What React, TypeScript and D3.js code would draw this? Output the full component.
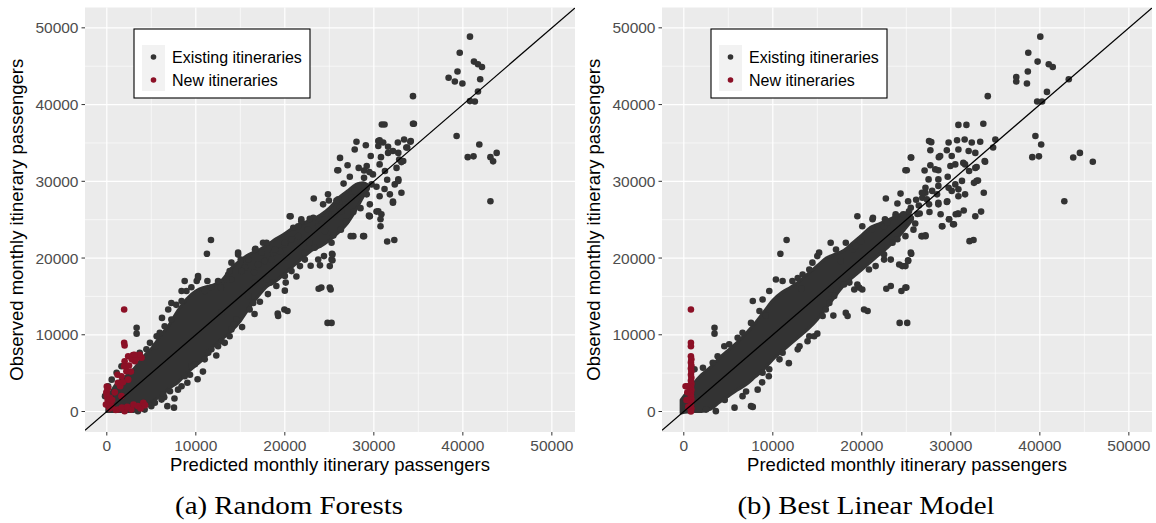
import React from 'react';
import * as d3 from 'd3';

// axis ticks (same for both panels)
const majorTicks = [0, 10000, 20000, 30000, 40000, 50000];
const minorTicks = [5000, 15000, 25000, 35000, 45000];
const xDomain = [-2450, 52600];
const yDomain = [-2670, 52650];

const legendLabels = ['Existing itineraries', 'New itineraries'];
const captions = ['(a) Random Forests', '(b) Best Linear Model'];
const xTitle = 'Predicted monthly itinerary passengers';
const yTitle = 'Observed monthly itinerary passengers';

// Random Forests: overplotted dense band (predicted, observed low, observed high)
const rfCoreX = [0, 1000, 2000, 3000, 4000, 5000, 6000, 7000, 8000, 9000, 10000, 11000, 12000, 13000, 14000, 15000, 16000, 17000, 18000, 19000, 20000, 21000, 22000, 23000, 24000, 25000, 26000, 27000, 28000, 28800, 29400];
const rfCoreLo = [0, 0, 0, 0, 500, 1200, 2000, 3000, 3800, 5000, 6000, 7000, 8500, 9500, 10500, 11800, 13500, 15000, 16300, 17000, 18000, 19000, 20000, 21000, 21500, 22300, 23300, 24500, 26300, 28000, 29000];
const rfCoreHi = [1500, 3500, 4500, 5500, 7000, 8200, 9800, 11300, 13200, 14700, 15700, 16200, 16500, 17200, 18700, 19700, 20500, 21000, 21700, 22500, 23200, 24000, 24500, 25000, 25600, 26500, 27800, 28700, 29600, 29800, 29500];

// Random Forests: existing itineraries [predicted, observed]
const rfExisting: [number, number][] = [
  [40800, 48850], [39650, 46750], [41250, 45600], [41700, 45250], [42150, 44900], [39400, 44300], [38400, 43500],
  [39100, 43000], [39950, 42750], [41950, 43300], [41700, 41700], [40800, 40450], [41350, 40400], [34400, 41100],
  [34400, 37500], [30900, 37400], [31200, 37400], [34500, 37500], [39300, 35900], [41850, 34800], [40550, 33150],
  [41200, 33250], [43100, 33150], [43400, 32600], [43800, 33700], [43100, 27400],
  [33400, 35450], [32700, 35050], [34150, 35250], [33650, 34400], [30500, 35250], [30500, 34600], [29100, 34700],
  [28050, 35150], [27850, 34150], [26200, 33050], [29650, 33300], [30800, 33150], [31600, 33700], [32850, 32850],
  [33300, 32650], [27050, 32100], [26000, 31450], [28300, 31750], [29200, 32000], [28900, 30450], [30650, 32200],
  [31250, 31350], [32550, 31750], [32750, 30250], [32350, 29600], [29750, 29600], [28250, 29400], [27850, 28750],
  [27500, 27850], [28600, 28300], [29200, 28300], [30650, 28050], [31800, 28300], [33100, 28500], [32150, 27200],
  [29550, 27000], [30500, 26100], [30850, 25700], [29450, 25550], [26800, 27000], [26000, 27650], [24850, 28300],
  [24950, 27500], [24300, 27000], [23250, 27750], [26200, 26550], [25250, 25700], [20550, 25450], [21850, 25050],
  [23200, 25250], [25900, 31450], [28900, 31400], [28800, 22850], [31500, 22150], [32300, 22350], [30750, 24150],
  [30750, 25050], [29500, 25450], [30300, 26050], [27700, 22850], [25800, 27500], [25050, 16150], [25350, 19700],
  [25350, 20450], [25050, 18950], [32150, 27350], [32750, 30050], [33100, 32500], [34100, 35150], [33750, 34400],
  [31050, 35050], [30650, 35350], [31600, 34500], [32750, 33700], [32150, 33950],
  [29900, 30900], [30300, 29300], [31200, 29000], [31500, 30200], [29500, 31200], [27300, 30600], [26600, 29700],
  [27700, 26000], [28500, 26500], [26900, 24800], [26300, 23700],
  [11700, 22350], [11250, 20550], [10250, 17650], [10100, 17000], [11300, 17000], [12500, 17000], [8950, 15700],
  [8400, 14400], [3350, 10900], [3350, 10150], [5450, 8500], [6800, 700], [7550, 500], [9050, 3750], [6450, 1850],
  [14750, 20700], [15050, 19800], [15700, 19750], [16700, 21200], [17550, 22000], [17950, 22000], [16550, 18150],
  [16650, 16850], [20200, 20050], [20750, 18300], [21700, 18950], [22250, 19800], [20000, 17650], [20100, 16800],
  [20000, 15750], [19050, 16350], [18400, 16800], [17950, 17200], [19950, 13300], [20300, 13100], [19200, 12750],
  [19250, 12450], [24100, 16150], [23800, 16000], [25150, 15900], [24800, 11550], [25250, 11550], [23750, 19800],
  [23950, 19050], [24400, 20250], [25250, 19800], [25300, 20550], [22250, 20700], [22750, 22000], [23350, 21350],
  [25250, 22000], [25450, 22950], [28900, 22850], [27400, 22850], [29550, 25450], [20650, 25450], [21850, 24800],
  [20950, 23950], [21500, 24150], [22800, 25100], [24100, 24400], [24500, 23500], [20000, 21750], [20750, 22450],
  [19450, 20900], [18700, 20700], [17750, 19600], [17000, 19150], [15500, 18750], [15150, 18300], [13650, 17850],
  [14000, 17200], [15900, 15050], [16450, 14150], [16050, 13300], [14550, 12000], [14300, 11350], [14000, 10700],
  [13800, 9800], [12900, 9150], [12500, 8500], [13250, 8950], [11750, 8100], [11400, 7650], [11000, 6800],
  [9900, 6150], [9500, 5900], [9350, 4800], [8750, 4600], [8400, 3300], [8000, 2850], [7100, 2650], [6350, 2200],
  [6150, 1550], [5400, 1150], [5000, 700], [4250, 250], [3500, 50],
  [8400, 15700], [8750, 17000], [10250, 17400], [11000, 15700], [11750, 16150], [12800, 16150], [13450, 17200],
  [13800, 18300], [14000, 19400], [14750, 20450], [15900, 19800], [16650, 21100], [17400, 20700], [18500, 19800],
  [18900, 21100], [20000, 22000], [21500, 22850], [22600, 23750], [23750, 24150], [24500, 25050], [25600, 25700],
  [26350, 26100], [7250, 14150], [6900, 13300], [7250, 12000], [6500, 11100], [5950, 10250], [5600, 9800],
  [4850, 8950], [4450, 8100], [3700, 7650], [3150, 7000], [1650, 5900], [1100, 5050], [550, 4150], [150, 3300],
  [-200, 2000],
  [9500, 16200], [7800, 13900], [6200, 12200], [10800, 5200], [12300, 7300], [15200, 11000], [17200, 14300],
  [18100, 15300], [21300, 17600], [22900, 19000], [7600, 1700], [10200, 4200], [12900, 13000], [16600, 12700],
];

// Random Forests: new itineraries [predicted, observed]
const rfNew: [number, number][] = [
  [1950, 13300], [1950, 8950], [2000, 8600], [0, 3250], [2400, 7200], [2950, 7350], [3500, 7200], [3900, 7000],
  [2000, 6550], [3150, 6550], [1950, 5900], [2200, 5250], [1650, 4600], [2400, 4150], [1250, 3750], [150, 3100],
  [-50, 2450], [350, 1800], [150, 1150], [550, 700], [1250, 250], [2000, 50], [2750, 250], [3500, 700],
  [4100, 1150], [1650, 2000], [2200, 5900], [1200, 4800],
  [0, 2600], [0, 2000], [100, 1500], [-100, 900], [300, 400], [600, 1500], [900, 2500], [1500, 3300],
  [1800, 3800], [2700, 5200], [2500, 6000], [2800, 6800], [3300, 6900], [3700, 7400], [3100, 7400],
  [1000, 200], [1700, 500], [2300, 600], [3000, 900], [3800, 400], [4300, 800],
];

// Best Linear Model: overplotted dense band
const lmCoreX = [-300, 1000, 2000, 3000, 4000, 5000, 6000, 7000, 8000, 9000, 10000, 11000, 12000, 13000, 14000, 15000, 16000, 17000, 18000, 19000, 20000, 21000, 22000, 23000, 24000, 25000, 25700];
const lmCoreLo = [-200, 0, 0, 300, 1200, 2000, 2800, 3500, 4500, 5500, 6800, 7800, 8800, 9800, 10800, 12000, 13500, 15000, 16500, 17500, 18500, 19500, 20500, 21500, 22600, 24000, 25000];
const lmCoreHi = [1500, 3500, 4800, 5800, 7000, 8000, 9000, 10200, 11500, 13000, 14500, 15500, 16200, 17000, 18000, 19000, 20000, 20500, 21000, 22000, 23000, 24000, 24500, 25000, 25500, 25900, 25300];

// Best Linear Model: existing itineraries
const lmExisting: [number, number][] = [
  [40050, 48850], [38700, 46750], [39750, 45600], [41000, 45250], [41450, 44900], [38650, 44300], [37350, 43600],
  [37350, 43000], [38550, 42750], [43250, 43300], [40800, 41650], [39700, 40400], [40250, 40400], [34150, 41100],
  [30850, 37350], [31750, 37350], [33650, 37500], [39500, 35900], [40150, 34800], [39150, 33150], [39900, 33250],
  [43750, 33100], [44500, 33700], [45950, 32550], [42750, 27400], [35000, 35450], [34750, 34400], [33800, 32650],
  [25500, 33100], [24900, 31450], [24350, 28400], [22700, 27750], [24000, 27100], [19500, 25450], [21250, 25250],
  [22600, 25050], [23800, 25450], [24650, 25700], [25200, 27400], [25500, 26550], [26400, 26850], [26250, 25750],
  [26800, 27850], [27150, 28500], [27550, 27000], [28600, 27000], [29600, 27400], [30850, 25750], [31450, 26200],
  [28850, 25700], [32750, 25450], [33400, 26050], [33700, 28500], [33050, 30100], [32600, 29800], [32050, 31350],
  [32750, 31750], [31600, 32200], [28650, 33150], [27700, 32100], [27550, 35250], [27700, 34050],
  [33850, 32550], [32900, 31850], [32900, 30050], [32100, 22200], [32550, 22350], [30800, 25800], [30250, 24400],
  [29800, 25050], [29000, 24150], [28600, 27200], [29550, 27300], [31600, 28300], [30850, 28050], [27150, 22850],
  [26700, 22850], [25550, 20550], [25200, 19700], [24900, 18950], [25000, 16150], [27800, 35100], [25550, 33100],
  [25050, 31450], [27050, 31400], [28600, 31450], [28800, 33300], [29550, 34050], [29750, 35050], [30700, 35350],
  [31550, 35450], [32350, 35050], [33300, 35150], [32000, 33950], [32750, 33700], [30100, 33300], [30850, 34150],
  [30500, 32200], [29950, 32000], [28250, 31550], [31400, 32400], [31250, 30050], [29650, 30600], [28600, 30250],
  [27500, 30250], [30500, 29600], [29750, 29150], [27150, 29150], [26750, 28500], [27900, 28750], [28600, 29400],
  [28450, 28300], [27300, 27650], [30100, 28750], [30850, 28950],
  [11550, 22350], [10850, 20550], [3450, 10900], [3450, 10150], [7550, 700], [7750, 600], [3600, 50], [2500, 250],
  [5700, 500], [6600, 2000], [8300, 2850], [8800, 3800], [9550, 4600], [9600, 5500], [8850, 5050], [10750, 6800],
  [11100, 7650], [12800, 8100], [13000, 8500], [13900, 9150], [14100, 9800], [14650, 9800], [15000, 10150],
  [15950, 13300], [15600, 12450], [16350, 14150], [16900, 15050], [16500, 15900], [18200, 12850], [18400, 12450],
  [20250, 13300], [20650, 13100], [19150, 15900], [19700, 16150], [18000, 16550], [18600, 16800], [19500, 16550],
  [20050, 15900], [20800, 18500], [21550, 18950], [22300, 20700], [22500, 19800], [23250, 19800], [24200, 19150],
  [24550, 18950], [25200, 19600], [25500, 20700], [23450, 22000], [24000, 22450], [24900, 22850], [26800, 22850],
  [27150, 22950], [23250, 16350], [22750, 16000], [24900, 16150], [24450, 15700], [24250, 11550], [25100, 11550],
  [22500, 20450], [29800, 25050], [30550, 25700], [30350, 24400], [29050, 24150],
  [1200, 5500], [2150, 5700], [3250, 6350], [3800, 7200], [4550, 8500], [5100, 8750], [6050, 9600], [6600, 10250],
  [7550, 11550], [7750, 14400], [8500, 13100], [8850, 14600], [9600, 15700], [10350, 17200], [11100, 17000],
  [12200, 17000], [12800, 17400], [13350, 17850], [14100, 18500], [14450, 19400], [15000, 20250], [15200, 20700],
  [16500, 22000], [17100, 21100], [18200, 22000], [18950, 21100], [19300, 21550], [19900, 22200], [20050, 24150],
  [21200, 25050], [22500, 24150], [22850, 24600], [23800, 25700], [25300, 26100], [21200, 23800],
  [26000, 24500], [26500, 25800], [25800, 23700], [27600, 26000], [26100, 27600], [7000, 2600], [11800, 6300],
  [13200, 16000], [9200, 12500], [4600, 1500], [16800, 12500], [17600, 19600],
];

// Best Linear Model: new itineraries
const lmNew: [number, number][] = [
  [800, 13300], [800, 8950], [800, 8500], [800, 7200], [850, 6800], [800, 6400], [850, 6000], [800, 5600],
  [850, 5200], [800, 4800], [850, 4400], [800, 4000], [850, 3600], [800, 3200], [850, 2800], [800, 2400],
  [800, 2000], [850, 1600], [800, 1200], [800, 800], [850, 400], [800, 0], [200, 3300], [450, 3300],
  [300, 1500], [500, 600], [400, 2500],
];

const ptColor = '#333333';
const newColor = '#8c1026';
const font = '"Liberation Sans", Arial, Helvetica, sans-serif';

const plotTop = 7.5;
const plotBottom = 432;
const plotWidth = 490;

interface PanelProps {
  id: string;
  left: number;
  coreX: number[];
  coreLo: number[];
  coreHi: number[];
  existing: [number, number][];
  newer: [number, number][];
  caption: string;
  captionWidth: number;
}

function Panel({ id, left, coreX, coreLo, coreHi, existing, newer, caption, captionWidth }: PanelProps) {
  const x = d3.scaleLinear().domain(xDomain).range([left, left + plotWidth]);
  const y = d3.scaleLinear().domain(yDomain).range([plotBottom, plotTop]);

  const core = d3.area<number>()
    .x((_, i) => x(coreX[i]))
    .y0((_, i) => y(coreLo[i]))
    .y1((_, i) => y(coreHi[i]))
    .curve(d3.curveMonotoneX)(coreX) || '';

  const diag = d3.line()([[x(xDomain[0]), y(xDomain[0])], [x(xDomain[1]), y(xDomain[1])]]) || '';

  const lgX = left + 49;
  const lgY = 29;

  return (
    <g>
      <defs>
        <clipPath id={id}>
          <rect x={left} y={plotTop} width={plotWidth} height={plotBottom - plotTop} />
        </clipPath>
      </defs>
      <rect x={left} y={plotTop} width={plotWidth} height={plotBottom - plotTop} fill="#EBEBEB" />
      {minorTicks.map(t => (
        <g key={'m' + t}>
          <line x1={x(t)} x2={x(t)} y1={plotTop} y2={plotBottom} stroke="#fff" strokeWidth={0.6} />
          <line x1={left} x2={left + plotWidth} y1={y(t)} y2={y(t)} stroke="#fff" strokeWidth={0.6} />
        </g>
      ))}
      {majorTicks.map(t => (
        <g key={'M' + t}>
          <line x1={x(t)} x2={x(t)} y1={plotTop} y2={plotBottom} stroke="#fff" strokeWidth={1.2} />
          <line x1={left} x2={left + plotWidth} y1={y(t)} y2={y(t)} stroke="#fff" strokeWidth={1.2} />
        </g>
      ))}

      <g clipPath={`url(#${id})`}>
        <path d={core} fill={ptColor} stroke={ptColor} strokeWidth={3} strokeLinejoin="round" />
        {existing.map((d, i) => (
          <circle key={'e' + i} cx={x(d[0])} cy={y(d[1])} r={3.3} fill={ptColor} />
        ))}
        {newer.map((d, i) => (
          <circle key={'n' + i} cx={x(d[0])} cy={y(d[1])} r={3.3} fill={newColor} />
        ))}
        <path d={diag} stroke="#000" strokeWidth={1.2} fill="none" />
      </g>

      {/* axes */}
      {majorTicks.map(t => (
        <g key={'tx' + t} fontFamily={font} fontSize={15.5} fill="#4D4D4D">
          <line x1={x(t)} x2={x(t)} y1={plotBottom} y2={plotBottom + 3.5} stroke="#333" strokeWidth={1} />
          <text x={x(t)} y={plotBottom + 19} textAnchor="middle">{t}</text>
          <line x1={left - 3.5} x2={left} y1={y(t)} y2={y(t)} stroke="#333" strokeWidth={1} />
          <text x={left - 6.5} y={y(t)} textAnchor="end" dominantBaseline="central">{t}</text>
        </g>
      ))}
      <text x={left + plotWidth / 2} y={471} textAnchor="middle" fontFamily={font} fontSize={18.5} fill="#000">{xTitle}</text>
      <text transform={`translate(${left - 62},${(plotTop + plotBottom) / 2}) rotate(-90)`} textAnchor="middle"
        fontFamily={font} fontSize={18.5} fill="#000">{yTitle}</text>

      {/* legend */}
      <rect x={lgX} y={lgY} width={176} height={69} fill="#fff" stroke="#000" strokeWidth={1.1} />
      <rect x={lgX + 8} y={lgY + 16} width={23} height={46} fill="#F2F2F2" />
      {legendLabels.map((lab, i) => (
        <g key={lab}>
          <circle cx={lgX + 19.5} cy={lgY + 28 + i * 23} r={2.8} fill={i === 0 ? ptColor : newColor} />
          <text x={lgX + 38} y={lgY + 28 + i * 23} dominantBaseline="central" fontFamily={font} fontSize={16} fill="#000">{lab}</text>
        </g>
      ))}

      <text x={left + 204} y={514} textAnchor="middle" fontFamily='"Liberation Serif", "DejaVu Serif", serif' fontSize={25}
        textLength={captionWidth} lengthAdjust="spacingAndGlyphs" fill="#000">{caption}</text>
    </g>
  );
}

export default function App() {
  return (
    <svg width={1156} height={523} style={{ position: 'absolute', left: 0, top: 0, background: '#fff' }}>
      <Panel id="clipA" left={85} coreX={rfCoreX} coreLo={rfCoreLo} coreHi={rfCoreHi}
        existing={rfExisting} newer={rfNew} caption={captions[0]} captionWidth={228} />
      <Panel id="clipB" left={662} coreX={lmCoreX} coreLo={lmCoreLo} coreHi={lmCoreHi}
        existing={lmExisting} newer={lmNew} caption={captions[1]} captionWidth={257} />
    </svg>
  );
}
